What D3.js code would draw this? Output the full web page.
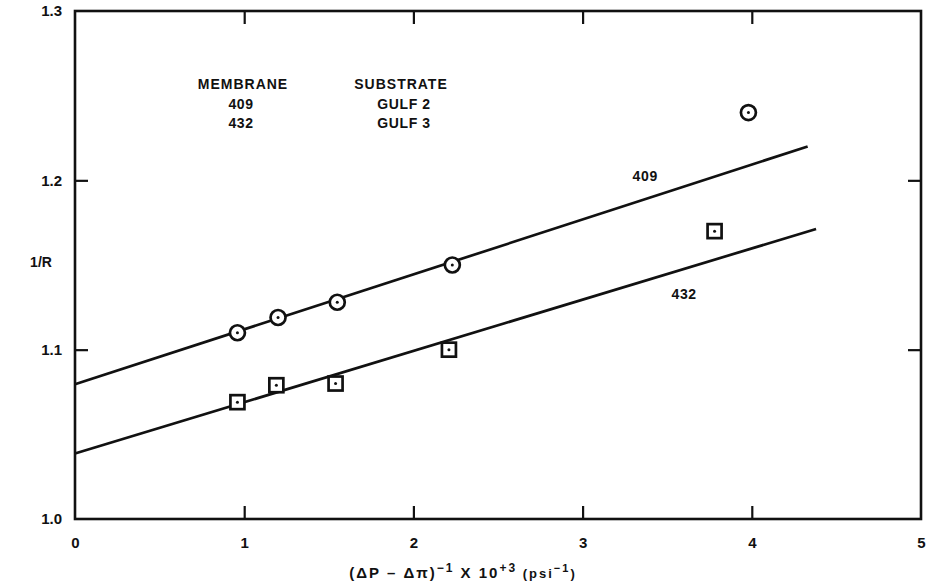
<!DOCTYPE html>
<html><head><meta charset="utf-8">
<script src="https://cdn.jsdelivr.net/npm/d3@7"></script>
<style>
body{margin:0;background:#fff;}
text{font-family:"Liberation Sans",Arial,sans-serif;font-weight:bold;fill:#111;}
</style></head><body>
<svg id="c" width="930" height="582"></svg>
<script>
const xTicks = [0,1,2,3,4,5];
const yTicks = [1.0,1.1,1.2,1.3];
const yTickLabels = ["1.0","1.1","1.2","1.3"];
const x409 = [0.96,1.20,1.55,2.23,3.98];
const y409 = [1.110,1.119,1.128,1.150,1.240];
const x432 = [0.96,1.19,1.54,2.21,3.78];
const y432 = [1.069,1.079,1.080,1.100,1.170];
const fit409 = {x:[0,4.33], y:[1.0796,1.2200]};
const fit432 = {x:[0,4.38], y:[1.0387,1.1713]};
const headers = ["MEMBRANE","SUBSTRATE"];
const membranes = ["409","432"];
const substrates = ["GULF 2","GULF 3"];

const svg = d3.select("#c");
const L=75,R=921,T=11,B=519;
const x = d3.scaleLinear().domain([0,5]).range([L,R]);
const y = d3.scaleLinear().domain([1.0,1.3]).range([B,T]);
const ink="#111";
const g = svg.append("g");

g.append("rect").attr("x",L).attr("y",T).attr("width",R-L).attr("height",B-T)
 .attr("fill","none").attr("stroke",ink).attr("stroke-width",2.6);

const tk=13;
const xb = d3.axisBottom(x).tickValues(xTicks).tickSize(-tk).tickFormat(d3.format("d")).tickPadding(18);
const xt = d3.axisTop(x).tickValues(xTicks.slice(1,-1)).tickSize(-tk).tickFormat("");
const yl = d3.axisLeft(y).tickValues(yTicks).tickSize(-tk).tickFormat((d,i)=>yTickLabels[i]).tickPadding(13);
const yr = d3.axisRight(y).tickValues(yTicks.slice(1,-1)).tickSize(-tk).tickFormat("");
function style(sel){sel.select(".domain").remove();sel.selectAll("line").attr("stroke",ink).attr("stroke-width",2.2);sel.selectAll("text").style("font-size","15px").style("font-family","Liberation Sans, Arial, sans-serif").style("font-weight","bold").attr("fill",ink);}
g.append("g").attr("transform",`translate(0,${B})`).call(xb).call(style)
 .selectAll(".tick").filter(d=>d===0||d===5).select("line").remove();
g.append("g").attr("transform",`translate(0,${T})`).call(xt).call(style);
g.append("g").attr("transform",`translate(${L},0)`).call(yl).call(style)
 .selectAll(".tick").filter(d=>d===1.0||d===1.3).select("line").remove();
g.append("g").attr("transform",`translate(${R},0)`).call(yr).call(style);

const line = d3.line().x(d=>x(d[0])).y(d=>y(d[1]));
[fit409,fit432].forEach(f=>{
  g.append("path").attr("d",line(f.x.map((v,i)=>[v,f.y[i]])))
   .attr("fill","none").attr("stroke",ink).attr("stroke-width",2.7);
});

const p409 = x409.map((v,i)=>[v,y409[i]]);
const p432 = x432.map((v,i)=>[v,y432[i]]);
g.selectAll(".c409").data(p409).enter().append("circle")
 .attr("cx",d=>x(d[0])).attr("cy",d=>y(d[1])).attr("r",7.5)
 .attr("fill","#fff").attr("stroke",ink).attr("stroke-width",2.7);
g.selectAll(".s432").data(p432).enter().append("rect")
 .attr("x",d=>x(d[0])-7).attr("y",d=>y(d[1])-7).attr("width",14).attr("height",14)
 .attr("fill","#fff").attr("stroke",ink).attr("stroke-width",2.7);
g.selectAll(".dot").data(p409.concat(p432)).enter().append("circle")
 .attr("cx",d=>x(d[0])).attr("cy",d=>y(d[1])).attr("r",1.5).attr("fill",ink);

const fs="14px", ls="0.6px";
g.append("text").attr("x",x(3.37)).attr("y",y(1.1997)).attr("text-anchor","middle").style("font-size",fs).style("letter-spacing",ls).text("409");
g.append("text").attr("x",x(3.6)).attr("y",y(1.1297)).attr("text-anchor","middle").style("font-size",fs).style("letter-spacing",ls).text("432");

const cols=[243,401];
const rows=[89,109,128];
headers.forEach((h,i)=>g.append("text").attr("x",cols[i]).attr("y",rows[0]).attr("text-anchor","middle").style("font-size",fs).style("letter-spacing","1px").text(h));
membranes.forEach((m,i)=>{
  g.append("text").attr("x",cols[0]-2).attr("y",rows[i+1]).attr("text-anchor","middle").style("font-size",fs).style("letter-spacing",ls).text(m);
  g.append("text").attr("x",cols[1]+3).attr("y",rows[i+1]).attr("text-anchor","middle").style("font-size",fs).style("letter-spacing",ls).text(substrates[i]);
});

g.append("text").attr("x",41).attr("y",267).attr("text-anchor","middle").style("font-size","14px").text("1/R");
const xl = g.append("text").attr("x",463).attr("y",578).attr("text-anchor","middle").style("font-size","15px").style("letter-spacing","2px");
xl.append("tspan").text("(\u0394P \u2013 \u0394\u03C0)");
xl.append("tspan").attr("dy",-6).style("font-size","12px").text("\u22121");
xl.append("tspan").attr("dy",6).text(" X 10");
xl.append("tspan").attr("dy",-6).style("font-size","12px").text("+3");
xl.append("tspan").attr("dy",6).style("font-size","13px").text(" (psi");
xl.append("tspan").attr("dy",-6).style("font-size","11px").text("\u22121");
xl.append("tspan").attr("dy",6).style("font-size","13px").text(")");
</script>
</body></html>
